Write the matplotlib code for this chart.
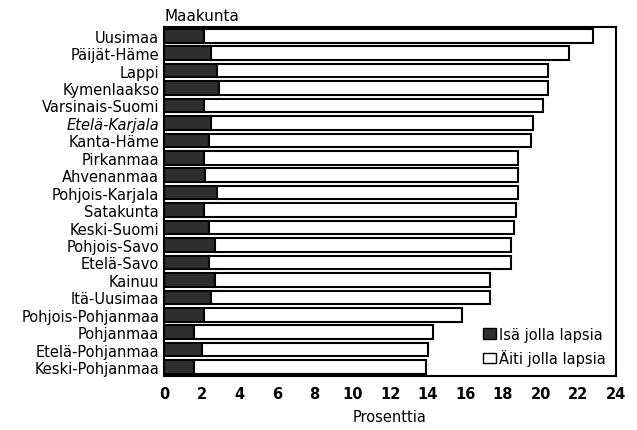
import numpy as np
import matplotlib.pyplot as plt
from matplotlib.patches import Patch

plt.rcParams['font.family'] = ['Liberation Sans Narrow', 'DejaVu Sans Condensed', 'DejaVu Sans']

#regions, top to bottom
regions = ['Uusimaa', 'Päijät-Häme', 'Lappi', 'Kymenlaakso', 'Varsinais-Suomi',
           'Etelä-Karjala', 'Kanta-Häme', 'Pirkanmaa', 'Ahvenanmaa', 'Pohjois-Karjala',
           'Satakunta', 'Keski-Suomi', 'Pohjois-Savo', 'Etelä-Savo', 'Kainuu',
           'Itä-Uusimaa', 'Pohjois-Pohjanmaa', 'Pohjanmaa', 'Etelä-Pohjanmaa', 'Keski-Pohjanmaa']
#father with children (%)
isa = [2.1, 2.5, 2.8, 2.9, 2.1, 2.5, 2.4, 2.1, 2.2, 2.8,
       2.1, 2.4, 2.7, 2.4, 2.7, 2.5, 2.1, 1.6, 2.0, 1.6]
#mother with children (%)
aiti = [20.7, 19.0, 17.6, 17.5, 18.0, 17.1, 17.1, 16.7, 16.6, 16.0,
        16.6, 16.2, 15.7, 16.0, 14.6, 14.8, 13.7, 12.7, 12.0, 12.3]

fig = plt.figure(figsize=(6.37, 4.31), dpi=100)
ax = fig.add_axes([0.2575, 0.125, 0.7095, 0.81])

y = np.arange(len(regions))
ax.barh(y, isa, height=0.78, color='#2e2e2e', edgecolor='black', linewidth=1.5)
ax.barh(y, aiti, left=isa, height=0.78, color='white', edgecolor='black', linewidth=1.5)

ax.set_xlim(0, 24)
ax.set_ylim(len(regions) - 0.48, -0.5)
ax.set_xticks(range(0, 25, 2))
ax.set_yticks(y)
ax.set_yticklabels(regions)
for lab in ax.get_yticklabels():
    if lab.get_text() == 'Etelä-Karjala':
        lab.set_style('italic')
ax.tick_params(length=0, labelsize=10.5)
ax.tick_params(axis='x', pad=7)
for lab in ax.get_xticklabels():
    lab.set_fontweight('bold')
for s in ax.spines.values():
    s.set_linewidth(1.5)

ax.set_xlabel('Prosenttia', fontsize=10.5, labelpad=6)
ax.text(0, 1.012, 'Maakunta', transform=ax.transAxes, fontsize=11, va='bottom', ha='left')

handles = [Patch(facecolor='#2e2e2e', edgecolor='black', label='Isä jolla lapsia'),
           Patch(facecolor='white', edgecolor='black', label='Äiti jolla lapsia')]
ax.legend(handles=handles, loc='lower right', frameon=False, fontsize=10.5,
          handlelength=0.9, handletextpad=0.2, borderaxespad=0.3, labelspacing=0.5)

fig.savefig('out.png', dpi=100)
